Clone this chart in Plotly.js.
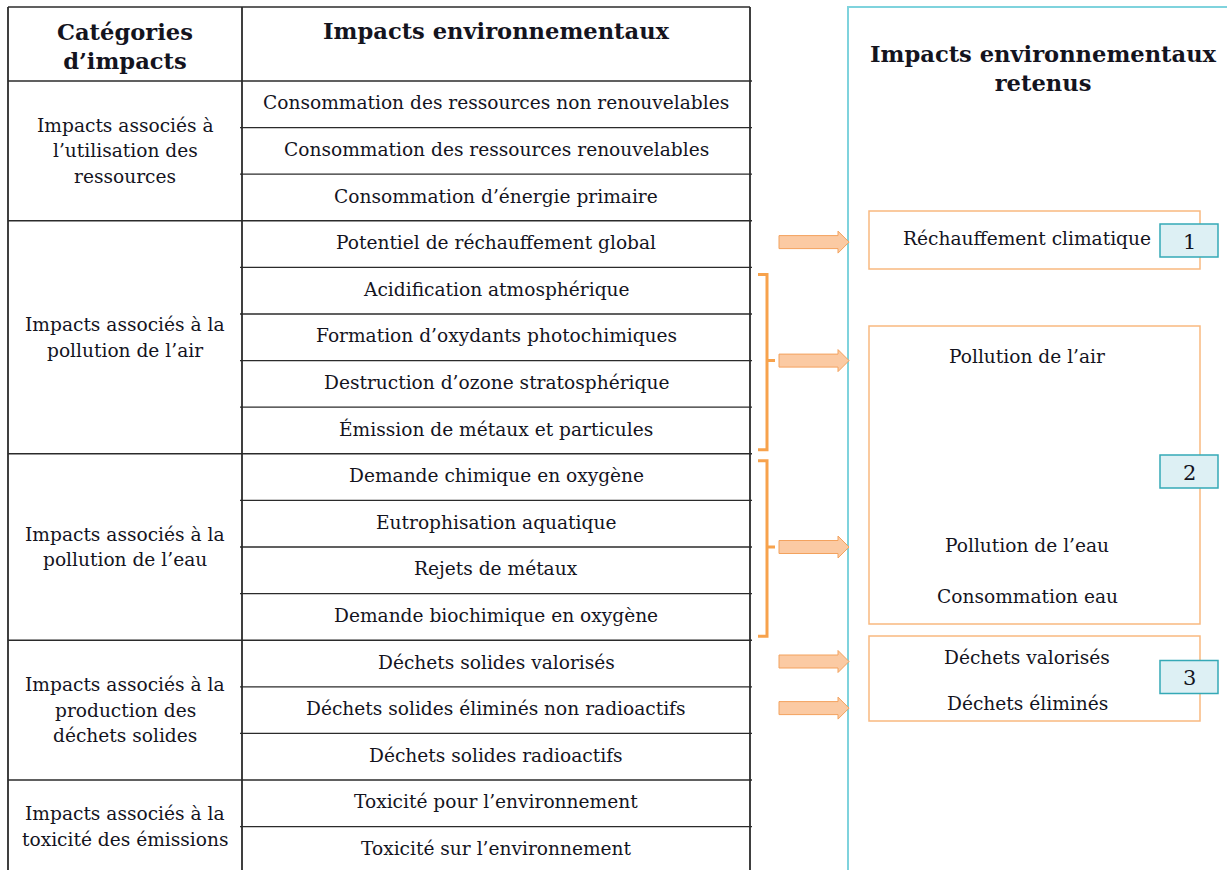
<!DOCTYPE html>
<html>
<head>
<meta charset="utf-8">
<script src="https://cdn.plot.ly/plotly-3.0.1.min.js"></script>
<style>html,body{margin:0;padding:0;background:#fff;}#chart{width:1227px;height:870px;}</style>
</head>
<body>
<div id="chart"></div>
<script>
// ---------- DATA ----------
const headerCategories = "Catégories<br>d’impacts";
const headerImpacts = "Impacts environnementaux";
const headerRetained = "Impacts environnementaux<br>retenus";

const categories = [
  "Impacts associés à<br>l’utilisation des<br>ressources",
  "Impacts associés à la<br>pollution de l’air",
  "Impacts associés à la<br>pollution de l’eau",
  "Impacts associés à la<br>production des<br>déchets solides",
  "Impacts associés à la<br>toxicité des émissions"
];
const categoryRowCounts = [3, 5, 4, 3, 2];

const impacts = [
  "Consommation des ressources non renouvelables",
  "Consommation des ressources renouvelables",
  "Consommation d’énergie primaire",
  "Potentiel de réchauffement global",
  "Acidification atmosphérique",
  "Formation d’oxydants photochimiques",
  "Destruction d’ozone stratosphérique",
  "Émission de métaux et particules",
  "Demande chimique en oxygène",
  "Eutrophisation aquatique",
  "Rejets de métaux",
  "Demande biochimique en oxygène",
  "Déchets solides valorisés",
  "Déchets solides éliminés non radioactifs",
  "Déchets solides radioactifs",
  "Toxicité pour l’environnement",
  "Toxicité sur l’environnement"
];

const retainedGroupNumbers = ["1", "2", "3"];
const retainedLabels = [
  ["Réchauffement climatique"],
  ["Pollution de l’air", "Pollution de l’eau", "Consommation eau"],
  ["Déchets valorisés", "Déchets éliminés"]
];
// links: impact rows [first,last] -> arrow (bracket when several rows)
const links = [[3, 3], [4, 7], [8, 11], [12, 12], [13, 13]];

// ---------- GEOMETRY / STYLE ----------
const W = 1227, H = 870;
const FONT = "DejaVu Serif";
const TXT = "#14141e";
const BODY = 18.6, HEAD = 22.6;
const tbl = {x0: 8, xDiv: 242, x1: 750, yTop: 7, yHead: 81, rowH: 46.6};
const rowY = i => tbl.yHead + i * tbl.rowH;
const rowC = i => tbl.yHead + (i + 0.5) * tbl.rowH;

const shapes = [];
const annotations = [];
const line = (x0, y0, x1, y1, color, width) => shapes.push({type: "line", xref: "x", yref: "y", x0, y0, x1, y1, line: {color, width}});
const txt = (x, y, text, size, opts = {}) => annotations.push(Object.assign({
  xref: "x", yref: "y", x, y, text, showarrow: false, xanchor: "center", yanchor: "middle",
  font: {family: FONT, size, color: TXT}
}, opts));

// table frame
const nRows = impacts.length;
line(tbl.x0, tbl.yTop, tbl.x1, tbl.yTop, "#2b2b2b", 1.6);
line(tbl.x0, tbl.yTop, tbl.x0, H + 5, "#2b2b2b", 1.8);
line(tbl.xDiv, tbl.yTop, tbl.xDiv, H + 5, "#2b2b2b", 1.8);
line(tbl.x1, tbl.yTop, tbl.x1, H + 5, "#2b2b2b", 1.8);
line(tbl.x0, tbl.yHead, tbl.x1 + 2, tbl.yHead, "#2b2b2b", 1.5);

// headers
txt(125, 46, "<b>" + headerCategories + "</b>", HEAD);
txt((tbl.xDiv + tbl.x1) / 2, 31, "<b>" + headerImpacts + "</b>", HEAD);

// categories & rows
let r = 0;
categories.forEach((cat, ci) => {
  const n = categoryRowCounts[ci];
  const y0 = rowY(r), y1 = rowY(r + n);
  const lines = cat.split("<br>");
  const cy = (y0 + y1) / 2;
  lines.forEach((l, k) => txt(125, cy + (k - (lines.length - 1) / 2) * 25.5, l, BODY));
  for (let j = 1; j < n; j++) line(tbl.xDiv - 2, rowY(r + j), tbl.x1 + 2, rowY(r + j), "#2b2b2b", 1.3);
  if (r + n < nRows) line(tbl.x0, y1, tbl.x1 + 2, y1, "#2b2b2b", 1.5);
  r += n;
});
impacts.forEach((imp, i) => txt((tbl.xDiv + tbl.x1) / 2, rowC(i) - 1.5, imp, BODY));

// retained panel
shapes.push({type: "rect", xref: "x", yref: "y", x0: 848, y0: 7, x1: W + 20, y1: H + 20, line: {color: "#7fd3dd", width: 2}});
txt(1043, 68, "<b>" + headerRetained + "</b>", HEAD);

// arrows + brackets
const ORANGE = "#f7a24c";
links.forEach(([a, b]) => {
  let c;
  if (a === b) {
    c = rowC(a) - 2;
  } else {
    const t = rowY(a) + 7, bt = rowY(b + 1) - 4, xv = 767, xl = 758;
    c = (rowY(a) + rowY(b + 1)) / 2;
    shapes.push({type: "path", xref: "x", yref: "y",
      path: `M${xl},${t} L${xv},${t} L${xv},${bt} L${xl},${bt} M${xv},${c} L${xv + 8},${c}`,
      line: {color: ORANGE, width: 3}});
  }
  const x0 = 779, xh = 838, x1 = 849, s = 6.5, h = 11;
  shapes.push({type: "path", xref: "x", yref: "y",
    path: `M${x0},${c - s} L${xh},${c - s} L${xh},${c - h} L${x1},${c} L${xh},${c + h} L${xh},${c + s} L${x0},${c + s} Z`,
    fillcolor: "#fbcaa3", line: {color: "#f3a25e", width: 1}});
});

// retained boxes
const boxes = [
  {y0: 211, y1: 269, numY: 240.5, labelY: [238]},
  {y0: 326, y1: 624, numY: 471.5, labelY: [356, 545, 596]},
  {y0: 636, y1: 721, numY: 677, labelY: [657, 703]}
];
boxes.forEach((bx, gi) => {
  shapes.push({type: "rect", xref: "x", yref: "y", x0: 869, y0: bx.y0, x1: 1200, y1: bx.y1, line: {color: "#f9b980", width: 1.5}});
  retainedLabels[gi].forEach((lab, k) => txt(1027, bx.labelY[k], lab, BODY));
  shapes.push({type: "rect", xref: "x", yref: "y", x0: 1160, y0: bx.numY - 16.5, x1: 1218, y1: bx.numY + 16.5,
    fillcolor: "#ddf0f4", line: {color: "#35a9b6", width: 1.5}});
  txt(1189, bx.numY + 1, retainedGroupNumbers[gi], 21);
});

const layout = {
  width: W, height: H,
  margin: {l: 0, r: 0, t: 0, b: 0, pad: 0},
  paper_bgcolor: "#ffffff", plot_bgcolor: "#ffffff",
  xaxis: {range: [0, W], visible: false, fixedrange: true},
  yaxis: {range: [H, 0], visible: false, fixedrange: true},
  showlegend: false,
  shapes, annotations
};
Plotly.newPlot("chart", [{x: [], y: [], type: "scatter", hoverinfo: "skip"}], layout, {displayModeBar: false, staticPlot: true});
</script>
</body>
</html>
